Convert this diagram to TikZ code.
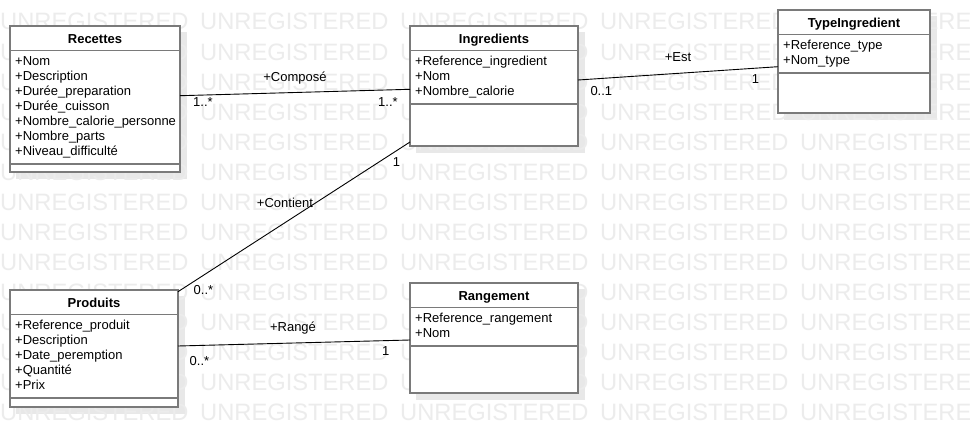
\documentclass[tikz,border=0pt]{standalone}
\usepackage{fontspec}
\setmainfont{Liberation Sans}
\usetikzlibrary{calc}
\pgfdeclarelayer{bglayer}
\pgfdeclarelayer{shadowlayer}
\pgfdeclarelayer{wmlayer}
\pgfsetlayers{bglayer,shadowlayer,wmlayer,main}
\definecolor{boxgray}{RGB}{122,122,122}
\definecolor{shadowgray}{RGB}{232,232,232}
\definecolor{wmgray}{RGB}{236,236,236}
\newcommand{\UMLclass}[7]{%
  \node[classbox, minimum width=#4pt, minimum height=#5pt] (#1) at (#2,#3) {};
  \begin{pgfonlayer}{shadowlayer}
    \fill[shadowgray] ($(#1.north west)+(6,6)$) rectangle ($(#1.south east)+(6.9,6.9)$);
  \end{pgfonlayer}
  \node[ctitle] (#1-t) at ($(#1.north)+(0,17.3)$) {#6};
  \draw[divider] ($(#1.north west)+(0,24.5)$) -- ($(#1.north east)+(0,24.5)$);
  \foreach \t [count=\i] in {#7} {\node[attr] (#1-a\i) at ($(#1.north west)+(5,{39.8+15*(\i-1)})$) {\t}; \xdef\nattr{\i}}
  \draw[divider] ($(#1.north west)+(0,{33.1+15*\nattr})$) -- ($(#1.north east)+(0,{33.1+15*\nattr})$);
}
\begin{document}
\begin{tikzpicture}[x=1pt,y=-1pt,
  classbox/.style={draw=boxgray, line width=1.8pt, fill=white, inner sep=0pt, outer sep=0pt, anchor=north west},
  divider/.style={draw=boxgray, line width=1.8pt},
  ctitle/.style={font=\fontsize{13}{15}\selectfont\bfseries, anchor=base, inner sep=0pt},
  attr/.style={font=\fontsize{13}{15}\selectfont, anchor=base west, inner sep=0pt},
  lbl/.style={font=\fontsize{13}{15}\selectfont, anchor=base west, inner sep=0pt},
  lblc/.style={lbl, anchor=base},
  assoc/.style={draw=black, line width=0.9pt},
  wm/.style={font=\fontsize{23.7}{24}\selectfont, text=wmgray, anchor=base west, inner sep=0pt}
]
\useasboundingbox (0,0) rectangle (970,447);
\clip (0,0) rectangle (970,447);
\begin{pgfonlayer}{bglayer}
\fill[white] (0,0) rectangle (970,447);
\end{pgfonlayer}

\begin{pgfonlayer}{wmlayer}
\foreach \r in {0,...,13}{
  \foreach \c in {0,...,4}{
    \node[wm] (wm-\r-\c) at ({200*\c},{30+30*\r}) {UNREGISTERED};
  }
}
\end{pgfonlayer}

\UMLclass{rec}{10}{26}{170}{146}{Recettes}{+Nom,+Description,+Durée\_preparation,+Durée\_cuisson,+Nombre\_calorie\_personne,+Nombre\_parts,+Niveau\_difficulté}
\UMLclass{ing}{410}{26}{168}{120}{Ingredients}{+Reference\_ingredient,+Nom,+Nombre\_calorie}
\UMLclass{typ}{778}{10}{152}{103}{TypeIngredient}{+Reference\_type,+Nom\_type}
\UMLclass{pro}{10}{290}{168}{117}{Produits}{+Reference\_produit,+Description,+Date\_peremption,+Quantité,+Prix}
\UMLclass{ran}{410}{283}{168}{110}{Rangement}{+Reference\_rangement,+Nom}

% associations
\draw[assoc] ($(rec.north east)+(0,69.7)$) -- ($(ing.north west)+(0,63.3)$);
\draw[assoc] ($(ing.north east)+(0,54)$) -- ($(typ.north west)+(0,56.7)$);
\draw[assoc] ($(ing.south west)+(0,-4)$) -- ($(pro.north east)+(0,1.7)$);
\draw[assoc] ($(pro.north east)+(0,56)$) -- ($(ran.north west)+(0,57)$);

% labels
\node[lblc] (l-comp) at (295,81) {+Composé};
\node[lbl] (m-comp1) at (193,106.7) {1..*};
\node[lbl] (m-comp2) at (378,106.7) {1..*};
\node[lblc] (l-est) at (678,61.7) {+Est};
\node[lbl] (m-est1) at (590.3,95) {0..1};
\node[lbl] (m-est2) at (751.6,83.3) {1};
\node[lblc] (l-cont) at (285,207.7) {+Contient};
\node[lbl] (m-cont1) at (392.6,166.7) {1};
\node[lbl] (m-cont2) at (193.5,294) {0..*};
\node[lblc] (l-range) at (293,331.7) {+Rangé};
\node[lbl] (m-range1) at (189.5,365) {0..*};
\node[lbl] (m-range2) at (382,355) {1};
\end{tikzpicture}
\end{document}
